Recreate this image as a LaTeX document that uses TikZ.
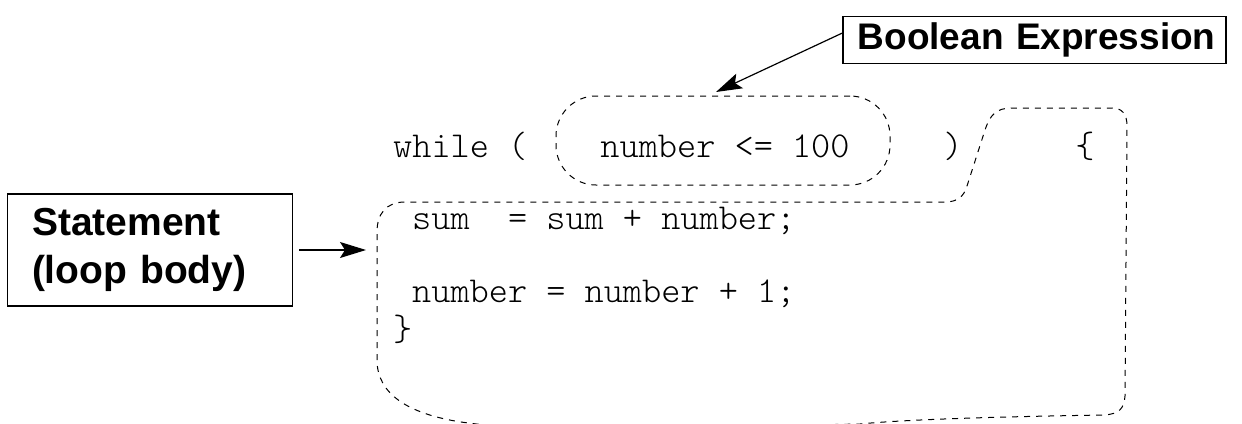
\documentclass[tikz,border=0pt]{standalone}
\usepackage{fontspec}
\setmainfont{Liberation Sans}
\newfontfamily\codefont{lmmonolt10-regular}[Extension=.otf]
\usetikzlibrary{arrows.meta, positioning}
\tikzset{code/.style={font=\codefont\fontsize{36.5}{44}\selectfont,inner sep=0pt},labelbox/.style={rectangle,draw,line width=1.2pt,font=\bfseries\fontsize{37}{48}\selectfont,align=left},outline/.style={dash pattern=on 6pt off 6pt,line width=1pt},pointer/.style={line width=1.2pt,-{Stealth[length=26pt,width=16pt,inset=5pt]}}}

\begin{document}
\begin{tikzpicture}[x=1pt,y=-1pt]
\useasboundingbox (0,0) rectangle (1242,423);
\clip (0,0) rectangle (1242,423);
% code text
\node[code, anchor=base west] (while) at (393,157) {while (};
\node[draw, outline, rounded corners=40pt, minimum width=334pt, minimum height=89pt] (condframe) at (723,140.5) {};
\node[code, anchor=base] (cond) at (725,157) {number <= 100};
\node[code, anchor=base] (rparen) at (953,157) {)};
\node[code, anchor=base] (lbrace) at (1085,157) {\{};
\node[code, anchor=base west] (sum) at (412,229) {sum~~= sum + number;};
\node[code, anchor=base west] (incr) at (412,302) {number = number + 1;};
\node[code, anchor=base west] (rbrace) at (393,340) {\}};
% loop body outline
\draw[outline] (377,360) -- (377,232) .. controls (377,214) and (386,202) .. (405,202) -- (945,202)
  .. controls (958,202) and (964,196) .. (967,186) -- (985,130) .. controls (990,115) and (996,108) .. (1012,108)
  -- (1112,108) .. controls (1122,108) and (1127,114) .. (1127,126) -- (1125,396)
  .. controls (1124,409) and (1119,414) .. (1104,415) .. controls (980,417) and (900,420) .. (860,424)
  -- (560,430) .. controls (500,427) and (472,424) .. (455,421) .. controls (410,413) and (377,395) .. (377,360) -- cycle;
% labels
\node[labelbox, minimum width=383pt, minimum height=47pt, text width=362pt, align=right] (bool) at (1034.5,40) {Boolean Expression};
\node[labelbox, minimum width=285pt, minimum height=112pt, text width=236pt, font=\bfseries\fontsize{39}{48}\selectfont] (stmt) at (150,250) {Statement\\(loop body)};
\coordinate (booltip) at (716,92);
\coordinate (bodytip) at (366,250);
\draw[pointer] ([yshift=7pt]bool.west) -- (booltip);
\draw[pointer, shorten <=6pt] (stmt.east) -- (bodytip);
\end{tikzpicture}
\end{document}
